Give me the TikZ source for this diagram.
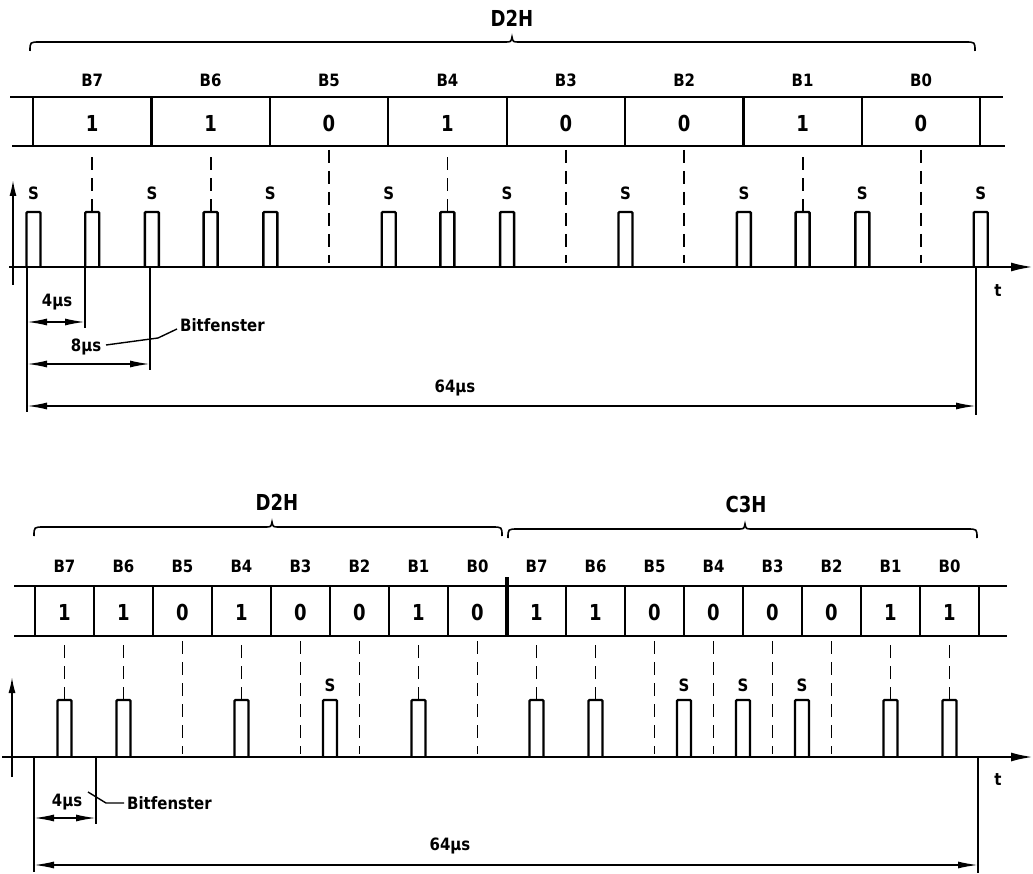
\documentclass[tikz,border=0pt]{standalone}
\usepackage{fontspec}
\setmainfont{DejaVu Sans}
\newfontfamily\lf[FakeStretch=0.88]{DejaVu Sans}
\newfontfamily\bigf[FakeStretch=0.82]{DejaVu Sans}
\usetikzlibrary{arrows.meta}
\newcommand\mybrace[4]{%
  \draw[brc] (#1,#4+9) .. controls (#1,#4) .. (#1+10,#4) -- (#3-7,#4)
    .. controls (#3-1,#4) .. (#3,#4-5) .. controls (#3+1,#4) .. (#3+7,#4)
    -- (#2-10,#4) .. controls (#2,#4) .. (#2,#4+9);}
\begin{document}
\begin{tikzpicture}[x=1pt,y=-1pt,
  reg/.style={line width=2.2pt},
  thickreg/.style={line width=3.4pt},
  pulse/.style={line width=2.4pt, rounded corners=1pt},
  dsh/.style={line width=1.8pt, dash pattern=on 13pt off 8pt},
  dim/.style={line width=1.4pt},
  brc/.style={line width=1.6pt},
  base/.style={line width=2.2pt, -{Latex[length=22pt,width=9pt]}},
  axis/.style={line width=1.6pt, -{Latex[length=16pt,width=7pt]}},
  dimarr/.style={line width=1.6pt, {Latex[length=20pt,width=7pt]}-{Latex[length=20pt,width=7pt]}},
  lbl/.style={font=\lf\bfseries\fontsize{17}{20}\selectfont, inner sep=0pt},
  dig/.style={font=\bigf\bfseries\fontsize{22}{26}\selectfont, inner sep=0pt},
  big/.style={font=\bigf\bfseries\fontsize{22}{26}\selectfont, inner sep=0pt},
]
\useasboundingbox (0,0) rectangle (1033,874);

%================ TOP DIAGRAM =================
\node[big] (tD2H) at (512,18) {D2H};
\mybrace{30}{975}{512}{42}

% register
\draw[reg] (10,97) -- (1003,97);
\draw[reg] (12,146) -- (1005,146);
\foreach \k in {0,...,8}
  \draw[reg] ({33+118.4*\k},97) -- ({33+118.4*\k},146);

% baseline and axis
\draw[base] (9,267) -- (1033,267);
\draw[axis] (13,285) -- (13,180);
\node[lbl] (tt) at (998,291) {t};

% bits
\foreach \v [count=\i from 0] in {1,1,0,1,0,0,1,0} {
  \pgfmathsetmacro\xc{92.2+118.4*\i}
  \pgfmathtruncatemacro\b{7-\i}
  \node[lbl] (tb\b) at (\xc,80) {B\b};
  \node[dig] (tv\b) at (\xc,123) {\v};
  \ifnum\v=1
    \draw[dsh] (\xc,212) -- (\xc,150);
    \draw[pulse] (\xc-7,267) |- (\xc+7,212) -- (\xc+7,267);
  \else
    \draw[dsh] (\xc,150) -- (\xc,263);
  \fi
}
% clock pulses S
\foreach \k in {0,...,8} {
  \pgfmathsetmacro\xs{33.5+118.4*\k}
  \draw[pulse] (\xs-7,267) |- (\xs+7,212) -- (\xs+7,267);
  \node[lbl] (ts\k) at (\xs,193) {S};
}

% dimensions
\coordinate (ta) at (27,268);
\coordinate (tb) at (85,268);
\coordinate (tc) at (150,268);
\coordinate (td) at (976,268);
\draw[dim] (ta) -- (27,412);
\draw[dim] (tb) -- (85,328);
\draw[dim] (tc) -- (150,370);
\draw[dim] (td) -- (976,415);
\draw[dimarr] (27,322) -- (85,322);
\draw[dimarr] (27,364) -- (150,364);
\draw[dimarr] (27,406) -- (976,406);
\node[lbl] (t4) at (57,302) {4µs};
\node[lbl] (t8) at (86,347) {8µs};
\node[lbl] (t64) at (455,388) {64µs};
\node[lbl, anchor=west] (tbf) at (180,325) {Bitfenster};
\draw[dim] (106,345) -- (158,338) -- (177,329);

%================ BOTTOM DIAGRAM =================
\node[big] (bD2H) at (277,502) {D2H};
\node[big] (bC3H) at (746,504) {C3H};
\mybrace{34}{502}{272}{527}
\mybrace{508}{977}{745}{529}

% register
\draw[reg] (14,586) -- (1007,586);
\draw[reg] (14,636) -- (1007,636);
\foreach \k in {0,...,16} {
  \ifnum\k=8
    \draw[thickreg] ({35+59*\k},577) -- ({35+59*\k},637);
  \else
    \draw[reg] ({35+59*\k},586) -- ({35+59*\k},636);
  \fi
}

% baseline and axis
\draw[base] (2,757) -- (1033,757);
\draw[axis] (12,777) -- (12,677);
\node[lbl] (bt) at (998,780) {t};

% bits
\foreach \v [count=\i from 0] in {1,1,0,1,0,0,1,0,1,1,0,0,0,0,1,1} {
  \pgfmathsetmacro\xc{64.5+59*\i}
  \pgfmathtruncatemacro\b{mod(15-\i,8)}
  \node[lbl] (bb\i) at (\xc,566) {B\b};
  \node[dig] (bv\i) at (\xc,612) {\v};
  \ifnum\v=1
    \draw[dsh] (\xc,700) -- (\xc,640);
    \draw[pulse] (\xc-7,757) |- (\xc+7,700) -- (\xc+7,757);
  \else
    \draw[dsh] (\xc,641) -- (\xc,754);
  \fi
}
% S pulses between consecutive zeros
\foreach \k in {5,11,12,13} {
  \pgfmathsetmacro\xs{35+59*\k}
  \draw[pulse] (\xs-7,757) |- (\xs+7,700) -- (\xs+7,757);
  \node[lbl] (bs\k) at (\xs,685) {S};
}

% dimensions
\coordinate (ba) at (34,758);
\coordinate (bb) at (96,758);
\coordinate (bc) at (978,758);
\draw[dim] (ba) -- (34,872);
\draw[dim] (bb) -- (96,824);
\draw[dim] (bc) -- (978,873);
\draw[dimarr] (34,818) -- (96,818);
\draw[dimarr] (34,865) -- (978,865);
\node[lbl] (b4) at (67,802) {4µs};
\node[lbl] (b64) at (450,846) {64µs};
\node[lbl, anchor=west] (bbf) at (127,803) {Bitfenster};
\draw[dim] (88,792) -- (106,803) -- (124,803);
\end{tikzpicture}
\end{document}
